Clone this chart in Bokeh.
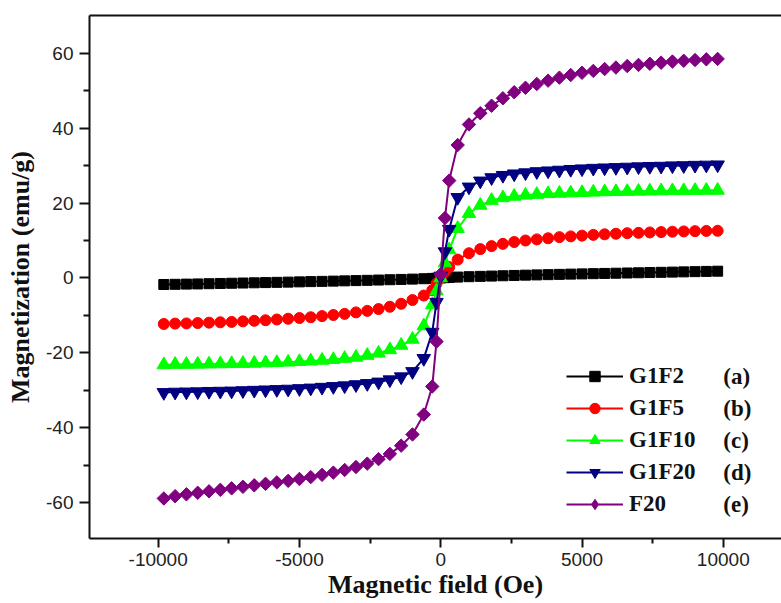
import math
from bokeh.plotting import figure
from bokeh.models import FixedTicker, LinearAxis, Label, Legend
from bokeh.embed import file_html
from bokeh.resources import INLINE

# ---------------- data ----------------
field_oe = [-9800, -9400, -9000, -8600, -8200, -7800, -7400, -7000, -6600, -6200,
            -5800, -5400, -5000, -4600, -4200, -3800, -3400, -3000, -2600, -2200,
            -1800, -1400, -1000, -600, -300, -150, 0, 150, 300, 600, 1000, 1400,
            1800, 2200, 2600, 3000, 3400, 3800, 4200, 4600, 5000, 5400, 5800, 6200,
            6600, 7000, 7400, 7800, 8200, 8600, 9000, 9400, 9800]

g1f2 = [-1.75, -1.70, -1.65, -1.60, -1.54, -1.48, -1.42, -1.36, -1.30, -1.24,
        -1.18, -1.12, -1.05, -0.98, -0.92, -0.85, -0.78, -0.71, -0.64, -0.56,
        -0.48, -0.40, -0.31, -0.21, -0.13, -0.08, 0.0, 0.08, 0.14, 0.23, 0.33, 0.42,
        0.50, 0.58, 0.66, 0.74, 0.81, 0.88, 0.95, 1.02, 1.08, 1.14, 1.20, 1.26,
        1.32, 1.38, 1.44, 1.50, 1.56, 1.62, 1.68, 1.74, 1.80]

g1f5 = [-12.3, -12.2, -12.15, -12.05, -11.95, -11.85, -11.75, -11.6, -11.45, -11.3,
        -11.1, -10.9, -10.7, -10.5, -10.2, -9.9, -9.6, -9.2, -8.8, -8.3,
        -7.7, -6.9, -5.9, -4.7, -3.3, -1.5, 0.0, 1.6, 2.9, 4.9, 6.6, 7.7,
        8.5, 9.1, 9.6, 10.0, 10.3, 10.6, 10.9, 11.1, 11.3, 11.5, 11.65, 11.8,
        11.95, 12.05, 12.15, 12.25, 12.35, 12.42, 12.5, 12.55, 12.6]

g1f10 = [-23.2, -23.1, -23.1, -23.05, -23.0, -22.95, -22.9, -22.85, -22.8, -22.7,
         -22.6, -22.5, -22.35, -22.2, -22.0, -21.8, -21.5, -21.2, -20.7, -20.1,
         -19.2, -18.0, -16.4, -12.8, -7.2, -3.5, 0.0, 4.0, 7.5, 13.2, 17.2, 19.4,
         20.7, 21.4, 21.8, 22.1, 22.3, 22.5, 22.6, 22.7, 22.8, 22.9, 23.0, 23.05,
         23.1, 23.15, 23.2, 23.25, 23.3, 23.3, 23.35, 23.4, 23.4]

g1f20 = [-30.6, -30.5, -30.45, -30.4, -30.3, -30.25, -30.2, -30.1, -30.0, -29.9,
         -29.8, -29.7, -29.55, -29.4, -29.2, -29.0, -28.8, -28.5, -28.2, -27.8,
         -27.2, -26.4, -25.0, -21.5, -14.5, -6.5, 0.5, 7.0, 13.0, 21.5, 24.3, 25.9,
         26.8, 27.4, 27.8, 28.1, 28.4, 28.6, 28.8, 29.0, 29.15, 29.3, 29.4, 29.5,
         29.6, 29.7, 29.8, 29.85, 29.95, 30.0, 30.1, 30.15, 30.2]

f20 = [-58.9, -58.3, -57.8, -57.4, -57.0, -56.6, -56.2, -55.8, -55.4, -55.0,
       -54.6, -54.2, -53.7, -53.2, -52.6, -52.0, -51.3, -50.5, -49.6, -48.4,
       -47.0, -44.8, -41.8, -36.5, -29.0, -17.0, 1.0, 16.0, 26.0, 35.5, 41.0, 44.0,
       46.0, 48.0, 49.6, 50.8, 51.8, 52.7, 53.5, 54.2, 54.8, 55.3, 55.8, 56.2,
       56.6, 56.9, 57.2, 57.5, 57.8, 58.0, 58.2, 58.4, 58.5]

series_names = ["G1F2", "G1F5", "G1F10", "G1F20", "F20"]
series_tags = ["(a)", "(b)", "(c)", "(d)", "(e)"]
series_values = [g1f2, g1f5, g1f10, g1f20, f20]

x_major_ticks = [-10000, -5000, 0, 5000, 10000]
x_minor_ticks = [-12500, -7500, -2500, 2500, 7500, 12500]
y_major_ticks = [-60, -40, -20, 0, 20, 40, 60]
y_minor_ticks = [-70, -50, -30, -10, 10, 30, 50]

# ---------------- styles ----------------
colors = ["#000000", "#ff0000", "#00ff00", "#000080", "#800080"]
markers = ["square", "circle", "triangle", "inverted_triangle", "square"]
legend_markers = ["square", "circle", "triangle", "inverted_triangle", "diamond"]
sizes = [10, 11, 13.5, 13.5, 9.5]
angles = [0, 0, 0, 0, math.pi / 4]

SERIF = "Liberation Serif"
SANS = "Liberation Sans"
INK = "#111111"

p = figure(width=781, height=603, output_backend="svg", toolbar_location=None,
           x_range=(-12430, 12060), y_range=(-69.6, 70.1),
           min_border_left=89, min_border_right=0, min_border_top=15,
           min_border_bottom=65)
p.outline_line_color = None
p.grid.visible = False
p.background_fill_color = "white"

items = []
for name, vals, c, m, lm, s, a in zip(series_names, series_values, colors, markers,
                                      legend_markers, sizes, angles):
    l = p.line(field_oe, vals, line_color=c, line_width=2)
    sc = p.scatter(field_oe, vals, marker=m, size=s, angle=a, fill_color=c, line_color=c)
    if lm != m:
        # legend swatches are drawn unrotated, so use a hidden diamond twin for the key
        key = p.scatter(field_oe, vals, marker=lm, size=s, fill_color=c,
                        line_color=c, visible=False)
    else:
        key = sc
    items.append((name, [l, key]))

# axes
for ax in (p.xaxis[0], p.yaxis[0]):
    ax.axis_line_width = 2
    ax.axis_line_color = INK
    ax.major_tick_line_width = 2
    ax.minor_tick_line_width = 2
    ax.major_tick_line_color = INK
    ax.minor_tick_line_color = INK
    ax.major_tick_in = 0
    ax.minor_tick_in = 0
    ax.major_label_text_font = SANS
    ax.major_label_text_font_size = "19px"
    ax.major_label_text_color = "#222222"
    ax.axis_label_text_font = SERIF
    ax.axis_label_text_font_style = "bold"
    ax.axis_label_text_font_size = "26px"
    ax.axis_label_text_color = INK

p.xaxis[0].ticker = FixedTicker(ticks=x_major_ticks, minor_ticks=x_minor_ticks)
p.yaxis[0].ticker = FixedTicker(ticks=y_major_ticks, minor_ticks=y_minor_ticks)
p.xaxis[0].major_label_overrides = {t: str(t) for t in x_major_ticks}
p.yaxis[0].major_label_overrides = {t: str(t) for t in y_major_ticks}
p.xaxis[0].major_tick_out = 9
p.xaxis[0].minor_tick_out = 5
p.xaxis[0].major_label_standoff = 5
p.xaxis[0].axis_label_standoff = 1
p.yaxis[0].major_tick_out = 10
p.yaxis[0].minor_tick_out = 6
p.yaxis[0].major_label_standoff = 6
p.yaxis[0].axis_label_standoff = 8
p.xaxis[0].axis_label = "Magnetic field (Oe)"
p.yaxis[0].axis_label = "Magnetization (emu/g)"

top_axis = LinearAxis(ticker=FixedTicker(ticks=[]), axis_line_width=2,
                      axis_line_color=INK, major_tick_line_color=None,
                      minor_tick_line_color=None, major_label_text_font_size="0px",
                      major_label_standoff=0)
p.add_layout(top_axis, "above")

legend = Legend(items=items, location=(477, 21), orientation="vertical",
                glyph_width=57, glyph_height=26, spacing=6, padding=0, margin=0,
                label_standoff=6, label_text_font=SERIF, label_text_font_style="bold",
                label_text_font_size="23px", label_text_color=INK,
                border_line_color=None, background_fill_alpha=0)
p.add_layout(legend, "center")

# series tags next to legend entries
for i, tag in enumerate(series_tags):
    p.add_layout(Label(x=10000, y=-26.3 - 8.55 * i, text=tag, text_font=SERIF,
                       text_font_style="bold", text_font_size="23px",
                       text_color=INK, text_align="left", text_baseline="middle"))

open("out.html", "w").write(file_html(p, INLINE))
